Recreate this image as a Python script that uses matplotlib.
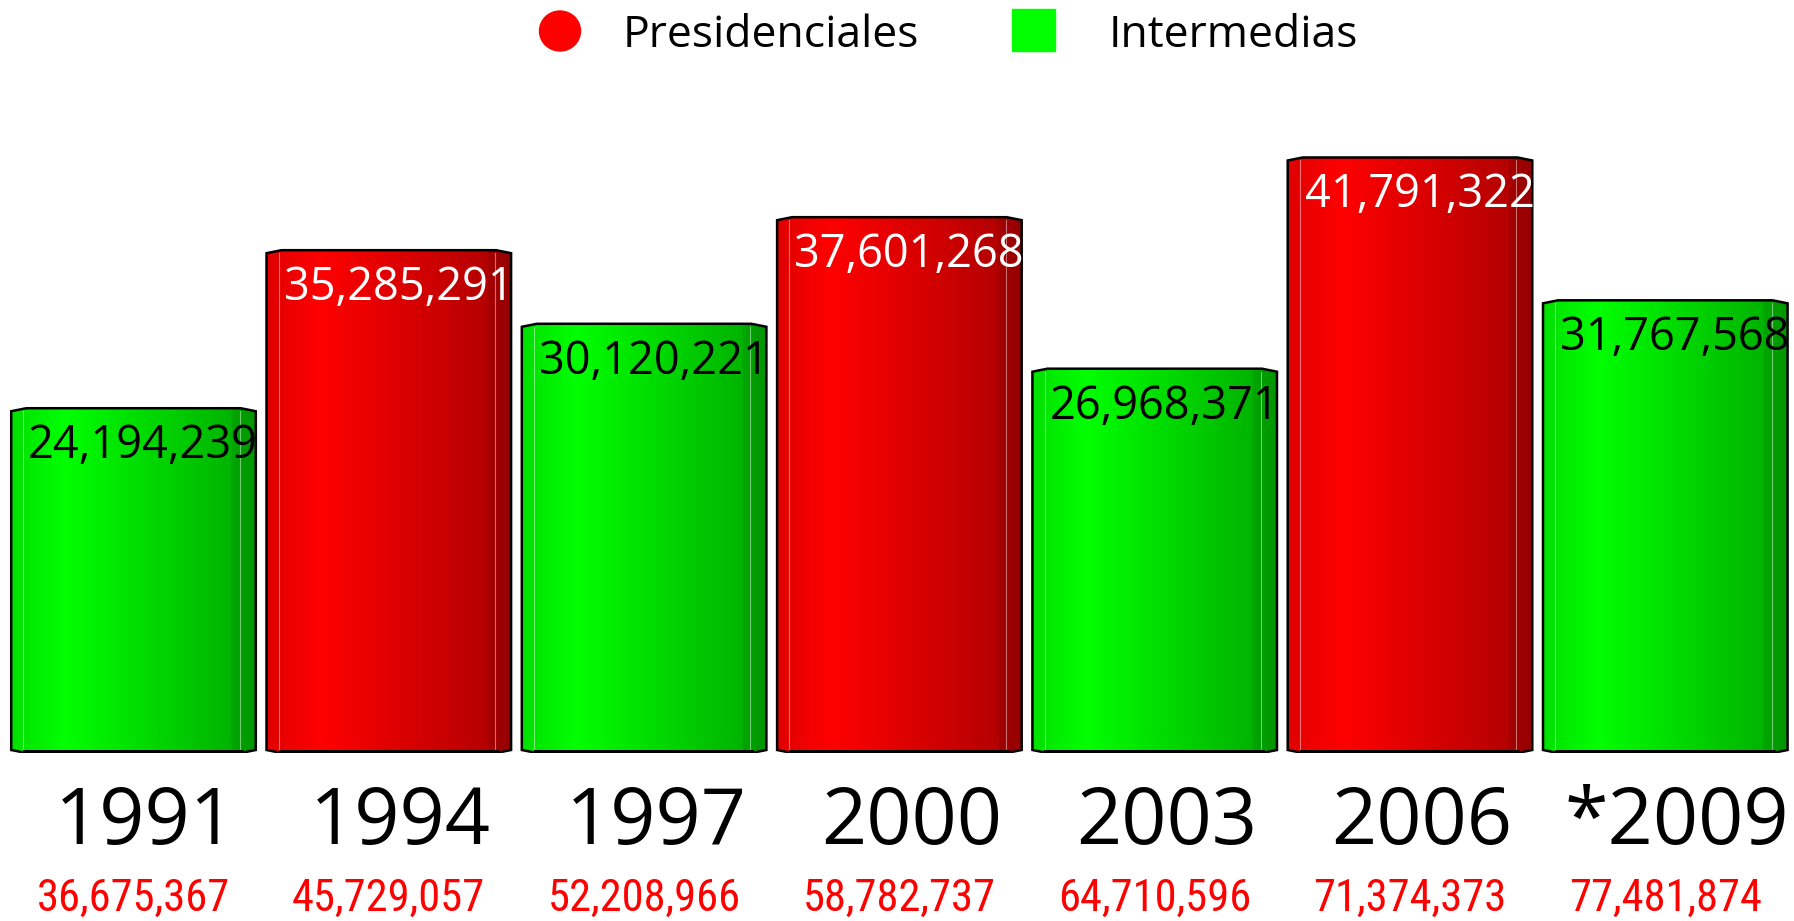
import matplotlib
matplotlib.use('Agg')
import matplotlib.pyplot as plt, numpy as np
from matplotlib import font_manager as fm
from matplotlib.patches import Polygon, Ellipse, Rectangle
from matplotlib.colors import LinearSegmentedColormap

plt.rcParams['font.family'] = ['Open Sans', 'DejaVu Sans']

years = ['1991', '1994', '1997', '2000', '2003', '2006', '*2009']
votos = [24194239, 35285291, 30120221, 37601268, 26968371, 41791322, 31767568]
padron = [36675367, 45729057, 52208966, 58782737, 64710596, 71374373, 77481874]
tipo = ['I', 'P', 'I', 'P', 'I', 'P', 'I']
series = {'P': 'Presidenciales', 'I': 'Intermedias'}


def narrow_font():
    # the bottom numbers use a condensed face; pick whatever narrow sans is installed
    best = None
    for f in fm.fontManager.ttflist:
        n = f.name.lower(); fn = f.fname.lower()
        if f.style != 'normal' or f.weight not in (400, 'normal', 'regular', 500, 'medium'):
            continue
        narrow = 'narrow' in n or 'condensed' in n or 'condensed' in fn or 'narrow' in fn \
            or str(f.stretch) in ('condensed', 'semi-condensed', 'extra-condensed')
        if not narrow or 'extra' in fn or 'semi' in fn or 'mono' in n or 'serif' in n.replace('sans', ''):
            continue
        rank = 0 if 'liberation' in n else 1 if 'roboto' in n else 2 if 'dejavu' in n else 3
        if best is None or rank < best[0]:
            best = (rank, f.fname)
    return fm.FontProperties(fname=best[1]) if best else None


W, H, DPI = 1794, 921, 100
fig = plt.figure(figsize=(W/DPI, H/DPI), dpi=DPI, facecolor='white')
pt = lambda p: p*72/DPI  # pixels -> points

step = 255.3; left_px = 133.5 - step/2
bottom_px, top_px = 753, 100
ax = fig.add_axes([left_px/W, (H-bottom_px)/H, len(years)*step/W, (bottom_px-top_px)/H])
ymax = (bottom_px-top_px)/14.25*1e6
dx = 1/step; dy = ymax/(bottom_px-top_px)
width = 0.958

cmaps = {
    'P': LinearSegmentedColormap.from_list('pres', [(0, '#e00000'), (0.22, '#ff0000'), (0.9, '#b50000'), (0.905, '#a50000'), (1, '#950000')]),
    'I': LinearSegmentedColormap.from_list('inter', [(0, '#00e000'), (0.22, '#00ff00'), (0.9, '#00b400'), (0.905, '#00a500'), (1, '#009500')]),
}
text_col = {'P': 'white', 'I': 'black'}
grad = np.linspace(0, 1, 256)[None, :]

nf = narrow_font()
if nf is not None:
    nf.set_size(32); red_kw = {'fontproperties': nf}
else:
    red_kw = {'fontsize': 26}

for i, (v, k) in enumerate(zip(votos, tipo)):
    xl, xr = i - width/2, i + width/2
    verts = [(xl, 3*dy), (xl, v - 3*dy), (xl + 15*dx, v), (xr - 15*dx, v), (xr, v - 3*dy),
             (xr, 3*dy), (xr - 15*dx, 0), (xl + 15*dx, 0)]
    poly = Polygon(verts, closed=True, facecolor='none', edgecolor='black', lw=1.8, zorder=3)
    ax.add_patch(poly)
    im = ax.imshow(grad, cmap=cmaps[k], extent=[xl, xr, 0, v], aspect='auto', interpolation='bicubic', zorder=1)
    im.set_clip_path(poly)
    for f in (0.05, 0.935):
        ax.plot([xl + f*width]*2, [3*dy, v - 3*dy], color='white', alpha=0.45, lw=0.8, zorder=2)
    ax.plot([xl + 12*dx, xr - 12*dx], [1.2*dy, 1.2*dy], color='black', lw=pt(4), solid_capstyle='butt', zorder=4)
    ax.annotate(f'{v:,}', xy=(xl, v), xytext=(pt(17), -pt(50)), textcoords='offset points',
                ha='left', va='baseline', fontsize=32.5, color=text_col[k], zorder=5)
    ax.annotate(years[i], xy=(i, 0), xytext=(pt(12), -pt(91)), textcoords='offset points',
                ha='center', va='baseline', fontsize=57, color='black', annotation_clip=False)
    ax.annotate(f'{padron[i]:,}', xy=(i, 0), xytext=(0, -pt(158)), textcoords='offset points',
                ha='center', va='baseline', color='#ff0000', annotation_clip=False, **red_kw)

ax.set_xlim(-0.5, len(years) - 0.5); ax.set_ylim(0, ymax); ax.axis('off')

# legend
ov = fig.add_axes([0, 0, 1, 1]); ov.set_xlim(0, W); ov.set_ylim(H, 0); ov.axis('off')
ov.add_patch(Ellipse((560, 31), 41, 40, color='#ff0000'))
ov.add_patch(Rectangle((1012, 9), 43, 42, color='#00ff00'))
ov.text(623, 47, series['P'], fontsize=32, va='baseline', ha='left', color='black')
ov.text(1109, 47, series['I'], fontsize=32, va='baseline', ha='left', color='black')

fig.savefig('out.png', dpi=DPI, facecolor='white')
